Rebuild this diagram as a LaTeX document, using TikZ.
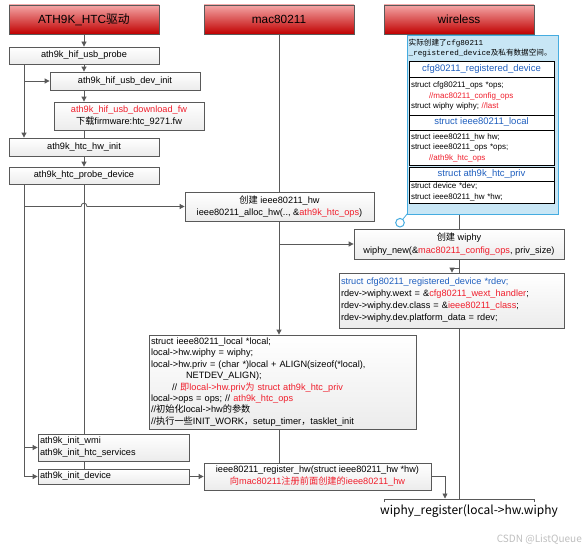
\documentclass[tikz,border=0pt]{standalone}
\usepackage{fontspec}
\setmainfont{Liberation Sans}
\newfontfamily\cjk{Noto Sans CJK SC}
\newfontfamily\monof{Liberation Mono}
\usetikzlibrary{arrows.meta}
\definecolor{rd}{HTML}{F01E2C}
\definecolor{bl}{HTML}{1F5FBF}
\definecolor{ln}{HTML}{595959}
\definecolor{hdtop}{HTML}{F4A6A6}
\definecolor{hdbot}{HTML}{C00000}
\definecolor{bfill}{HTML}{C8E6F5}
\definecolor{bdraw}{HTML}{45ACE0}
\newcommand\rtxt[1]{\textcolor{rd}{#1}}
\newcommand\btxt[1]{\textcolor{bl}{#1}}
\begin{document}
\begin{tikzpicture}[x=1pt,y=-1pt,
  hdr/.style={draw=ln, line width=0.8pt, top color=hdtop, bottom color=hdbot, minimum width=150pt, minimum height=29pt, font=\fontsize{11.8}{14}\selectfont, inner sep=0pt},
  box/.style={draw=ln, line width=0.8pt, top color=white, bottom color=gray!15, inner sep=1pt, align=center, font=\fontsize{9.2}{12.5}\selectfont},
  lbox/.style={box, align=left, inner xsep=2pt, inner ysep=0pt},
  ibox/.style={draw=black, line width=0.8pt, fill=white, minimum width=145pt, inner sep=0pt},
  ititle/.style={ibox, text=bl, font=\fontsize{9.5}{11}\selectfont},
  ibody/.style={ibox, align=left, text width=141pt, inner xsep=2pt, font=\fontsize{8}{10.5}\selectfont},
  conn/.style={draw=ln, line width=0.8pt},
  arr/.style={conn, -{Triangle[length=5pt,width=5pt]}},
]
\fill[white] (0,0) rectangle (583,551);
\useasboundingbox (0,0) rectangle (583,551);

% headers
\node[hdr] (hA) at (84,19.5) {ATH9K\_HTC{\cjk 驱动}};
\node[hdr] (hM) at (279,19.5) {mac80211};
\node[hdr] (hW) at (459,19.5) {wireless};

% left column
\node[box, minimum width=150pt, minimum height=17pt] (probe) at (84,55.5) {ath9k\_hif\_usb\_probe};
\node[box, minimum width=150pt, minimum height=18pt] (devinit) at (125,81) {ath9k\_hif\_usb\_dev\_init};
\node[box, minimum width=150pt, minimum height=28pt] (dlfw) at (129,116) {\rtxt{ath9k\_hif\_usb\_download\_fw}\\{\cjk 下载}firmware:htc\_9271.fw};
\node[box, minimum width=150pt, minimum height=18pt] (hwinit) at (84,147) {ath9k\_htc\_hw\_init};
\node[box, minimum width=150pt, minimum height=17pt] (pdev) at (84,175.5) {ath9k\_htc\_probe\_device};

% mac80211 column
\node[box, minimum width=189pt, minimum height=29pt] (alloc) at (279.5,206.5) {{\cjk 创建} ieee80211\_hw\\ieee80211\_alloc\_hw(.., \&\rtxt{ath9k\_htc\_ops})};
\node[box, minimum width=210pt, minimum height=30pt] (wnew) at (459,244) {{\cjk 创建} wiphy\\wiphy\_new(\&\rtxt{mac80211\_config\_ops}, priv\_size)};

% wireless vertical lines (behind boxes)
\coordinate (wend) at (459,499);
\draw[conn] (hW.south) -- (wnew.north);
\draw[conn] (wnew.south) -- (wend);

\node[lbox, text width=221pt, minimum height=55pt, font=\fontsize{9.2}{12}\selectfont] (cfg) at (451.5,300.5) {\btxt{struct cfg80211\_registered\_device *rdev;}\\rdev->wiphy.wext = \&\rtxt{cfg80211\_wext\_handler};\\rdev->wiphy.dev.class = \&\rtxt{ieee80211\_class};\\rdev->wiphy.dev.platform\_data = rdev;};

\node[lbox, text width=263pt, minimum height=94pt, font=\fontsize{9.2}{11.4}\selectfont] (local) at (282.5,382) {struct ieee80211\_local *local;\\local->hw.wiphy = wiphy;\\local->hw.priv = (char *)local + ALIGN(sizeof(*local),\\\hspace*{35pt}NETDEV\_ALIGN);\\\hspace*{21pt}// \rtxt{{\cjk 即}local->hw.priv{\cjk 为} struct ath9k\_htc\_priv}\\local->ops = ops; // \rtxt{ath9k\_htc\_ops}\\//{\cjk 初始化}local->hw{\cjk 的参数}\\//{\cjk 执行一些}INIT\_WORK{\cjk ，}setup\_timer{\cjk ，}tasklet\_init};

\node[lbox, text width=147pt, minimum height=27pt, font=\fontsize{9.2}{12}\selectfont] (wmi) at (113.5,447.5) {ath9k\_init\_wmi\\ath9k\_init\_htc\_services};
\node[lbox, text width=147pt, minimum height=15pt] (idev) at (113.5,476.5) {ath9k\_init\_device};
\node[box, minimum width=227pt, minimum height=27pt, font=\fontsize{9.2}{12}\selectfont] (reghw) at (317.5,476.5) {ieee80211\_register\_hw(struct ieee80211\_hw *hw)\\\rtxt{{\cjk 向}mac80211{\cjk 注册前面创建的}ieee80211\_hw}};

% blue annotation box
\node[draw=bdraw, fill=bfill, line width=1pt, minimum width=151pt, minimum height=178pt, inner sep=0pt] (wbox) at (482.5,125) {};
\node[anchor=north west, align=left, inner sep=0pt, font=\fontsize{7.6}{10}\selectfont] (wtitle) at (408.5,38.5) {{\cjk 实际创建了}{\monof cfg80211}\\{\monof \_registered\_device}{\cjk 及私有数据空间。}};
\node[ititle, minimum height=16pt] (t1) at (481.5,69) {cfg80211\_registered\_device};
\node[ibody, minimum height=38pt] (b1) at (481.5,96) {struct cfg80211\_ops *ops;\\\hspace*{18pt}\rtxt{//mac80211\_config\_ops}\\struct wiphy wiphy; \rtxt{//last}};
\node[ititle, minimum height=15pt] (t2) at (481.5,122.5) {struct ieee80211\_local};
\node[ibody, minimum height=35pt] (b2) at (481.5,147.5) {struct ieee80211\_hw hw;\\struct ieee80211\_ops *ops;\\\hspace*{18pt}\rtxt{//ath9k\_htc\_ops}};
\node[ititle, minimum height=14pt] (t3) at (481.5,174) {struct ath9k\_htc\_priv};
\node[ibody, minimum height=22pt] (b3) at (481.5,192) {struct device *dev;\\struct ieee80211\_hw *hw;};
\node[circle, draw=bdraw, fill=white, line width=1pt, minimum size=8.6pt, inner sep=0pt] (cir) at (400,222.7) {};
\draw[draw=bdraw, line width=0.8pt] ([xshift=1pt,yshift=1pt]wbox.south west) -- (cir);

% connectors: left column
\coordinate (L1) at (24,0);
\coordinate (hopA) at (81,206.5);
\coordinate (hopB) at (87,206.5);
\draw[arr] (hA.south) -- (probe.north);
\draw[arr] (probe.south) -- (probe.south |- devinit.north);
\draw[arr] (probe.south |- devinit.south) -- (probe.south |- dlfw.north);
\draw[conn] (probe.south |- dlfw.south) -- (hwinit.north);
\draw[arr] (L1 |- probe.south) -- (L1 |- hwinit.north);
\draw[arr] (L1 |- devinit.west) -- (devinit.west);
\draw[arr] (hwinit.south) -- (pdev.north);
\draw[arr] (L1 |- pdev.south) -- (L1 |- idev.west) -- (idev.west);
\draw[arr] (L1 |- wmi.west) -- (wmi.west);
\draw[conn] (pdev.south) -- (pdev.south |- wmi.north);
\draw[arr] (L1 |- alloc.west) -- (hopA) .. controls (81,202) and (87,202) .. (hopB) -- (alloc.west);
\draw[conn] (pdev.south |- wmi.south) -- (pdev.south |- idev.north);
\draw[arr] (idev.east) -- (reghw.west);

% mac80211 column
\draw[conn] (hM.south) -- (hM.south |- alloc.north);
\draw[arr] (hM.south |- alloc.south) -- (hM.south |- local.north);
\draw[arr] (hM.south |- wnew.west) -- (wnew.west);
\draw[conn] (hM.south |- local.south) -- (hM.south |- reghw.north);

% wireless column
\draw[arr] ([yshift=-9pt]wnew.south) -| ([xshift=0.5pt]cfg.north);
\coordinate (rA) at (445,498.5);
\draw[arr] (reghw.east) -| (rA);
\coordinate (brL) at (384,502);
\coordinate (brR) at (534,502);
\draw[conn] (brL) -- (384,499) -- (534,499) -- (brR);
\node[font=\cjk\fontsize{12}{14}\selectfont, inner sep=0pt] (wreg) at (469,511) {wiphy\_register(local->hw.wiphy};
\node[font=\cjk\fontsize{10}{12}\selectfont, text=gray!50, inner sep=0pt, anchor=east] (wm) at (582,540) {CSDN @ListQueue};
\end{tikzpicture}
\end{document}
